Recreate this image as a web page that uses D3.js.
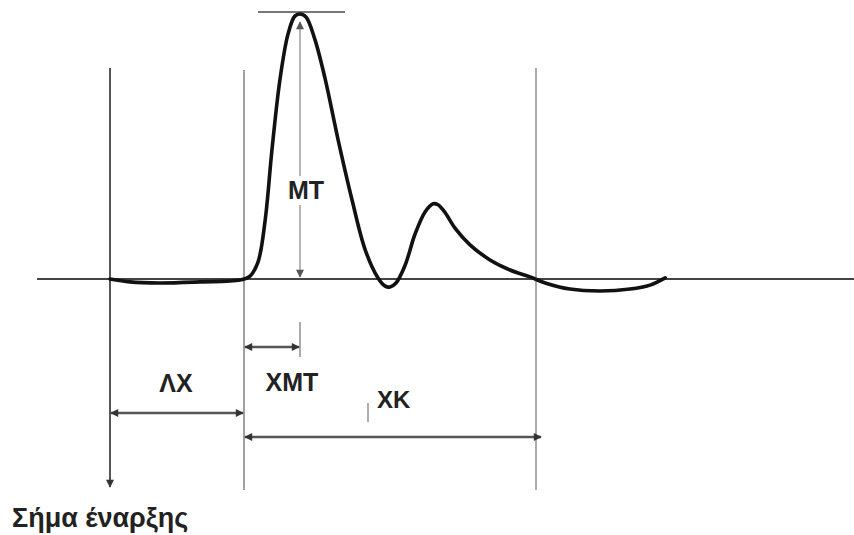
<!DOCTYPE html>
<html>
<head>
<meta charset="utf-8">
<script src="https://cdn.jsdelivr.net/npm/d3@7"></script>
<style>
  body { margin: 0; background: #fff; }
  svg { display: block; }
</style>
</head>
<body>
<div></div>
<script>
// time in ms after stimulus, amplitude as % of the main peak
var times = [0, 2.5, 6.25, 11.25, 16.25, 17.5, 18.5, 19.4, 20.25, 21.25, 22.25, 23.1, 23.75, 24.5, 25.6, 26.9, 28.5, 30.25, 31.9, 33.5, 34.4, 35, 35.75, 36.9, 38.1, 39.4, 40.4, 41, 41.9, 43.1, 45, 47.5, 50, 52.5, 54.4, 57.5, 61.25, 65, 67.5, 69.4];
var amps  = [0, -1.1, -1.5, -1.1, -0.4, 1.1, 6.4, 22.3, 48.9, 75.4, 92.4, 99.2, 100, 98.9, 90.5, 75.4, 52.7, 29.9, 11, 0.4, -2.7, -3, -1.5, 5.3, 16.7, 25.4, 28.4, 28, 25, 19.3, 12.9, 7.2, 3.4, 0.8, -1.5, -3.8, -4.5, -3.8, -2.3, 0.4];

// markers (ms): stimulus, onset, time to peak, end
var markerTimes = [0, 16.75, 23.75, 53.25];
var labels = ['ΛΧ', 'ΧΜΤ', 'ΧΚ', 'ΜΤ', 'Σήμα έναρξης'];

var width = 854;
var height = 535;

var svg = d3.select('div')
    .append('svg')
    .attr('width', width)
    .attr('height', height);

var x = d3.scaleLinear().domain([0, 1]).range([110, 118]);
var y = d3.scaleLinear().domain([0, 100]).range([279, 14]);

var defs = svg.append('defs');
function marker(id, color) {
    defs.append('marker')
        .attr('id', id)
        .attr('viewBox', '0 0 10 10')
        .attr('refX', 9).attr('refY', 5)
        .attr('markerWidth', 9).attr('markerHeight', 8)
        .attr('markerUnits', 'userSpaceOnUse')
        .attr('orient', 'auto-start-reverse')
        .append('path')
        .attr('d', 'M0,0 L10,5 L0,10 Z')
        .attr('fill', color);
}
marker('arr', '#333');
marker('arrg', '#555');

var xStim = x(markerTimes[0]), xOn = x(markerTimes[1]), xPk = x(markerTimes[2]), xEnd = x(markerTimes[3]);

// vertical guide lines
svg.append('line').attr('x1', xStim).attr('x2', xStim).attr('y1', 68).attr('y2', 487)
    .attr('stroke', '#555').attr('stroke-width', 2).attr('marker-end', 'url(#arr)');
svg.append('line').attr('x1', xOn).attr('x2', xOn).attr('y1', 70).attr('y2', 490)
    .attr('stroke', '#888').attr('stroke-width', 1.6);
svg.append('line').attr('x1', xEnd).attr('x2', xEnd).attr('y1', 68).attr('y2', 490)
    .attr('stroke', '#888').attr('stroke-width', 1.4);

// baseline
svg.append('line').attr('x1', 37).attr('x2', width).attr('y1', y(0)).attr('y2', y(0))
    .attr('stroke', '#444').attr('stroke-width', 2.2);

// peak line
svg.append('line').attr('x1', 258).attr('x2', 345).attr('y1', 12).attr('y2', 12)
    .attr('stroke', '#777').attr('stroke-width', 2);

// MT arrow
svg.append('line').attr('x1', xPk).attr('x2', xPk).attr('y1', 176).attr('y2', 22)
    .attr('stroke', '#999').attr('stroke-width', 1.4).attr('marker-end', 'url(#arrg)');
svg.append('line').attr('x1', xPk).attr('x2', xPk).attr('y1', 205).attr('y2', 277)
    .attr('stroke', '#999').attr('stroke-width', 1.4).attr('marker-end', 'url(#arrg)');
svg.append('line').attr('x1', xPk).attr('x2', xPk).attr('y1', 322).attr('y2', 357)
    .attr('stroke', '#888').attr('stroke-width', 1.4);

// waveform
var line = d3.line()
    .x((d) => x(d[0]))
    .y((d) => y(d[1]))
    .curve(d3.curveCatmullRom.alpha(0.5));
svg.append('path')
    .datum(d3.zip(times, amps))
    .attr('d', line)
    .attr('fill', 'none')
    .attr('stroke', '#111')
    .attr('stroke-width', 3.6)
    .attr('stroke-linejoin', 'round')
    .attr('stroke-linecap', 'round');

// horizontal interval arrows
function hArrow(x1, x2, yy) {
    svg.append('line').attr('x1', x1 + 1).attr('x2', x2 - 1).attr('y1', yy).attr('y2', yy)
        .attr('stroke', '#555').attr('stroke-width', 2.6)
        .attr('marker-start', 'url(#arr)').attr('marker-end', 'url(#arr)');
}
hArrow(xOn, xPk, 347);
hArrow(xStim, xOn, 413);
hArrow(xOn, xEnd + 6, 437);

// small tick by XK
svg.append('line').attr('x1', 368).attr('x2', 368).attr('y1', 403).attr('y2', 422)
    .attr('stroke', '#777').attr('stroke-width', 1.2);

// labels
var font = 'Arial, "Liberation Sans", sans-serif';
function label(txt, lx, ly, size, anchor) {
    return svg.append('text')
        .attr('x', lx).attr('y', ly)
        .attr('text-anchor', anchor || 'middle')
        .attr('font-family', font)
        .attr('font-weight', 'bold')
        .attr('font-size', size)
        .attr('fill', '#222')
        .text(txt);
}
label(labels[3], 306, 199, 25);
label(labels[0], 176, 392, 25);
label(labels[1], 292, 391, 25);
label(labels[2], 377, 408, 24, 'start');
label(labels[4], 12, 527, 27, 'start');
</script>
</body>
</html>
